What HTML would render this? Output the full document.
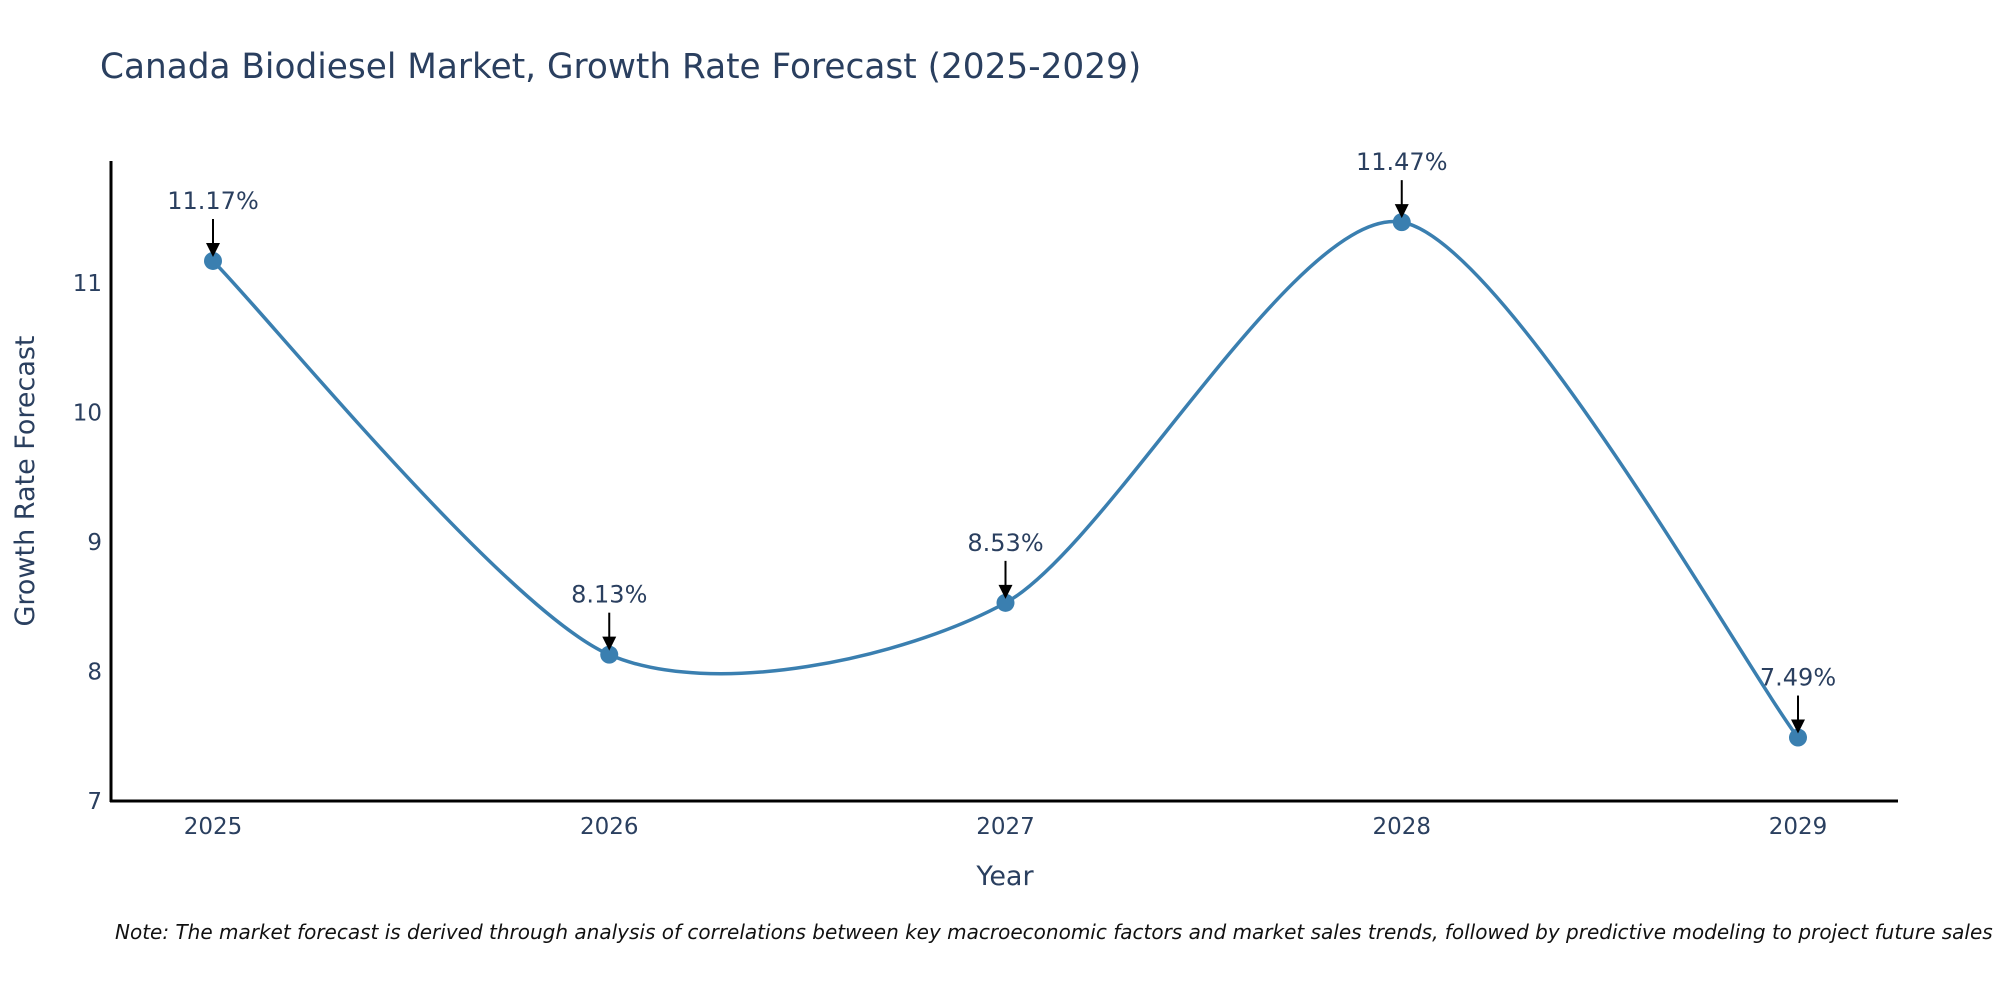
<!DOCTYPE html>
<html><head><meta charset="utf-8">
<style>
html,body{margin:0;padding:0;background:#fff;}
svg{display:block;font-family:"DejaVu Sans","Liberation Sans",sans-serif;}
</style></head>
<body>
<svg id="chart" width="2000" height="1000" viewBox="0 0 2000 1000">
<text x="100" y="78" font-size="34.3" fill="#2a3f5f">Canada Biodiesel Market, Growth Rate Forecast (2025-2029)</text>
<g id="yticks"></g>
<g id="xticks"></g>
<line x1="111" y1="161" x2="111" y2="802" stroke="#000" stroke-width="3"/>
<line x1="110" y1="801" x2="1898" y2="801" stroke="#000" stroke-width="3"/>
<path id="line" fill="none" stroke="#3a7fb0" stroke-width="3.5"/>
<g id="points"></g>
<g id="annots"></g>
<text x="1005" y="885" font-size="27" fill="#2a3f5f" text-anchor="middle">Year</text>
<text transform="translate(34,481) rotate(-90)" font-size="27" fill="#2a3f5f" text-anchor="middle">Growth Rate Forecast</text>
<text x="115" y="939" font-size="20" font-style="italic" fill="#111">Note: The market forecast is derived through analysis of correlations between key macroeconomic factors and market sales trends, followed by predictive modeling to project future sales</text>
</svg>
<script>
const years = [2025, 2026, 2027, 2028, 2029];
const rates = [11.17, 8.13, 8.53, 11.47, 7.49];
const labels = ["11.17%", "8.13%", "8.53%", "11.47%", "7.49%"];
const yTicks = [7, 8, 9, 10, 11];

const NS = "http://www.w3.org/2000/svg";
function xs(v){ return 213 + (v - 2025) * (1798 - 213) / 4; }
function ys(v){ return 801 - (v - 7) * (801 - 283) / 4; }
function mk(tag, attrs, parent){
  const el = document.createElementNS(NS, tag);
  for (const k in attrs) el.setAttribute(k, attrs[k]);
  parent.appendChild(el); return el;
}
const yt = document.getElementById('yticks');
yTicks.forEach(t => {
  const el = mk('text', {x: 102, y: ys(t) + 8, 'font-size': 23, fill: '#2a3f5f', 'text-anchor': 'end'}, yt);
  el.textContent = t;
  
  
});
const xt = document.getElementById('xticks');
years.forEach(y => {
  const el = mk('text', {x: xs(y), y: 834, 'font-size': 23, fill: '#2a3f5f', 'text-anchor': 'middle'}, xt);
  el.textContent = y;
  
  
});
const P = years.map((y, i) => [xs(y), ys(rates[i])]);
let d = `M${P[0][0]},${P[0][1]}`;
const s = 0.13;
for (let i = 0; i < P.length - 1; i++) {
  const p0 = P[Math.max(i-1,0)], p1 = P[i], p2 = P[i+1], p3 = P[Math.min(i+2,P.length-1)];
  const c1 = [p1[0] + (p2[0]-p0[0])*s, p1[1] + (p2[1]-p0[1])*s];
  const c2 = [p2[0] - (p3[0]-p1[0])*s, p2[1] - (p3[1]-p1[1])*s];
  d += ` C${c1[0]},${c1[1]} ${c2[0]},${c2[1]} ${p2[0]},${p2[1]}`;
}
document.getElementById('line').setAttribute('d', d);
const pts = document.getElementById('points');
const an = document.getElementById('annots');
P.forEach((p, i) => {
  const c = mk('circle', {cx: p[0], cy: p[1], r: 9, fill: '#3a7fb0'}, pts);
  
  
  const ln = mk('line', {x1: p[0], y1: p[1] - 42, x2: p[0], y2: p[1] - 14, stroke: '#000', 'stroke-width': 2}, an);
  
  
  const ah = mk('path', {d: `M${p[0]-7},${p[1]-18} L${p[0]+7},${p[1]-18} L${p[0]},${p[1]-4} Z`, fill: '#000'}, an);
  
  
  const t = mk('text', {x: p[0], y: p[1] - 52, 'font-size': 24, fill: '#2a3f5f', 'text-anchor': 'middle'}, an);
  t.textContent = labels[i];
  
  
});
</script>
</body></html>
